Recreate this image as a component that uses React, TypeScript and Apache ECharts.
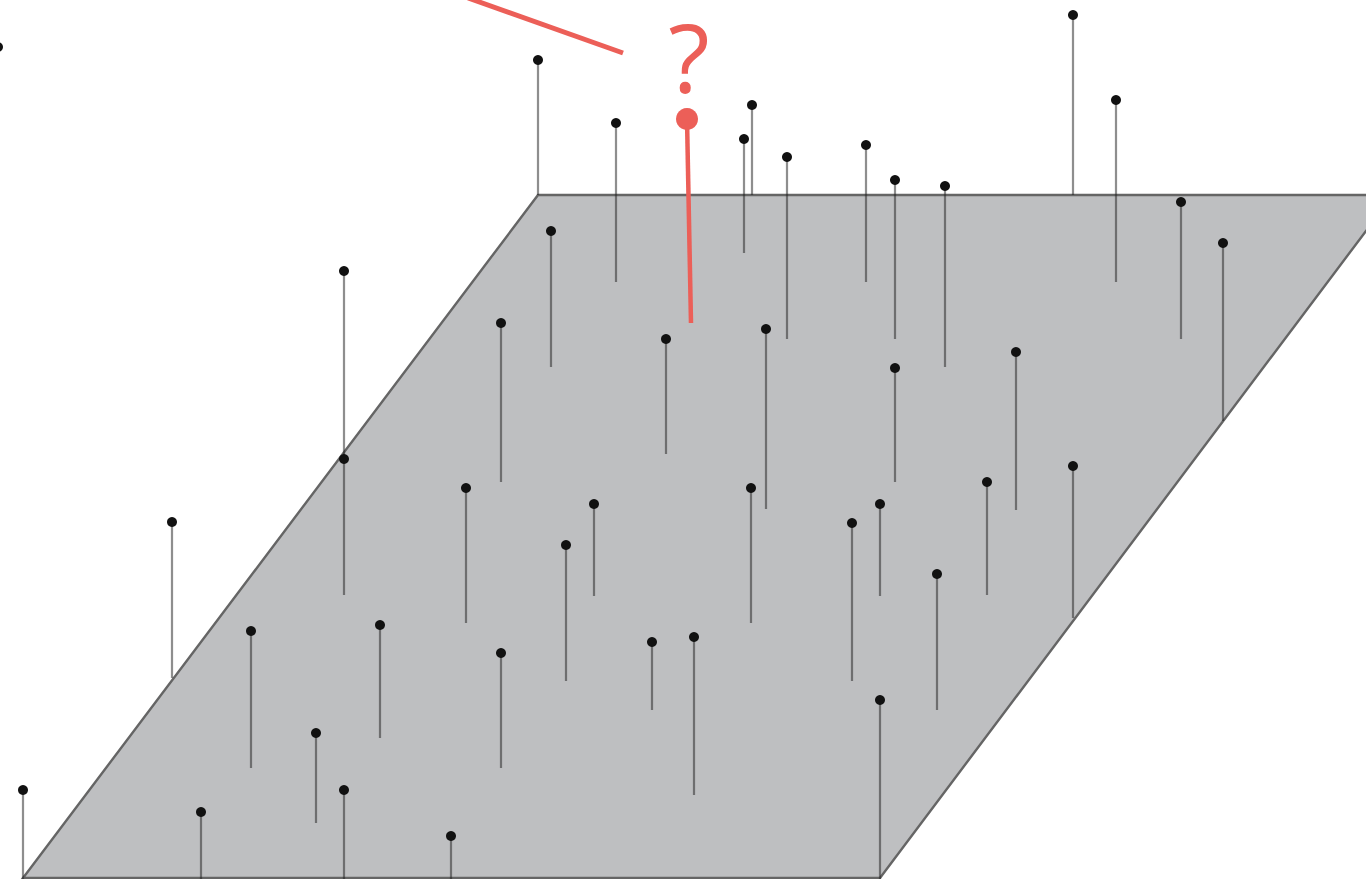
import React, { useEffect, useRef } from "react";
import * as echarts from "echarts";

// Pins: horizontal position, head (top) and foot (base) positions in the drawing's units
const pinX = [-2, 23, 172, 201, 251, 316, 344, 344, 344, 380, 451, 466, 501, 501, 538, 551, 566, 594, 616, 652, 666, 694, 744, 752, 751, 766, 787, 852, 866, 880, 880, 895, 895, 937, 945, 987, 1016, 1073, 1073, 1116, 1181, 1223];
const pinTop = [47, 790, 522, 812, 631, 733, 271, 459, 790, 625, 836, 488, 323, 653, 60, 231, 545, 504, 123, 642, 339, 637, 139, 105, 488, 329, 157, 523, 145, 504, 700, 180, 368, 574, 186, 482, 352, 15, 466, 100, 202, 243];
const pinBase = [47, 879, 678, 879, 768, 823, 455, 595, 879, 738, 879, 623, 482, 768, 195, 367, 681, 596, 282, 710, 454, 795, 253, 195, 623, 509, 339, 681, 282, 596, 879, 339, 482, 710, 367, 595, 510, 195, 618, 282, 339, 421];

// Plane (parallelogram) corners
const planeX = [538, 1393, 880, 23];
const planeY = [195, 195, 878, 878];

// Red annotation: pointer line, marker (dot + stem) and question mark
const pointerLine = [[468, -2, 623, 53]];
const markerStem = [[687, 119, 691, 323]];
const markerDot = [[687, 119]];
const questionMark = [[689, 55]];

const RED = "#ec5f58";

export default function App() {
  const ref = useRef<HTMLDivElement>(null);
  useEffect(() => {
    if (!ref.current) return;
    const chart = echarts.init(ref.current, undefined, { renderer: "svg" });
    const segRender = (color: string, width: number) => (params: any, api: any) => {
      const a = api.coord([api.value(0), api.value(1)]);
      const b = api.coord([api.value(2), api.value(3)]);
      return {
        type: "line",
        shape: { x1: a[0], y1: a[1], x2: b[0], y2: b[1] },
        style: { stroke: color, lineWidth: width, lineCap: "butt" },
      };
    };
    chart.setOption({
      animation: false,
      backgroundColor: "#ffffff",
      grid: { left: 0, right: 0, top: 0, bottom: 0 },
      xAxis: { type: "value", min: 0, max: 1366, show: false },
      yAxis: { type: "value", min: 0, max: 879, inverse: true, show: false },
      series: [
        {
          type: "custom",
          name: "plane",
          data: [[planeX[0], planeY[0]]],
          encode: { x: 0, y: 1 },
          silent: true,
          renderItem: (params: any, api: any) => {
            const pts = planeX.map((x, i) => api.coord([x, planeY[i]]));
            return {
              type: "polygon",
              shape: { points: pts },
              style: { fill: "#bebfc1", stroke: "#656565", lineWidth: 2.4 },
            };
          },
          z: 1,
        },
        {
          type: "custom",
          name: "stems",
          data: pinX.map((x, i) => [x, pinTop[i], x, pinBase[i]]),
          encode: { x: [0, 2], y: [1, 3] },
          silent: true,
          renderItem: segRender("rgba(30,30,30,0.5)", 2.2),
          z: 2,
        },
        {
          type: "scatter",
          name: "heads",
          data: pinX.map((x, i) => [x, pinTop[i]]),
          symbol: "circle",
          symbolSize: 10,
          clip: false,
          itemStyle: { color: "#111111", opacity: 1 },
          silent: true,
          z: 3,
        },
        {
          type: "custom",
          name: "pointer",
          data: pointerLine,
          encode: { x: [0, 2], y: [1, 3] },
          silent: true,
          renderItem: segRender(RED, 5),
          z: 4,
        },
        {
          type: "custom",
          name: "markerStem",
          data: markerStem,
          encode: { x: [0, 2], y: [1, 3] },
          silent: true,
          renderItem: segRender(RED, 4.5),
          z: 4,
        },
        {
          type: "scatter",
          name: "markerDot",
          data: markerDot,
          symbol: "circle",
          symbolSize: 22,
          clip: false,
          itemStyle: { color: RED, opacity: 1 },
          silent: true,
          z: 5,
        },
        {
          type: "custom",
          name: "question",
          data: questionMark,
          encode: { x: 0, y: 1 },
          silent: true,
          renderItem: (params: any, api: any) => {
            const p = api.coord([api.value(0), api.value(1)]);
            return {
              type: "text",
              x: p[0],
              y: p[1],
              style: {
                text: "?",
                fill: RED,
                fontSize: 96,
                lineHeight: 76,
                fontFamily: "Open Sans",
                fontWeight: 400,
                align: "center",
                verticalAlign: "middle",
              },
            };
          },
          z: 5,
        },
      ],
    });
    return () => chart.dispose();
  }, []);
  return (
    <div
      ref={ref}
      style={{ position: "fixed", left: 0, top: 0, width: 1366, height: 879 }}
    />
  );
}
